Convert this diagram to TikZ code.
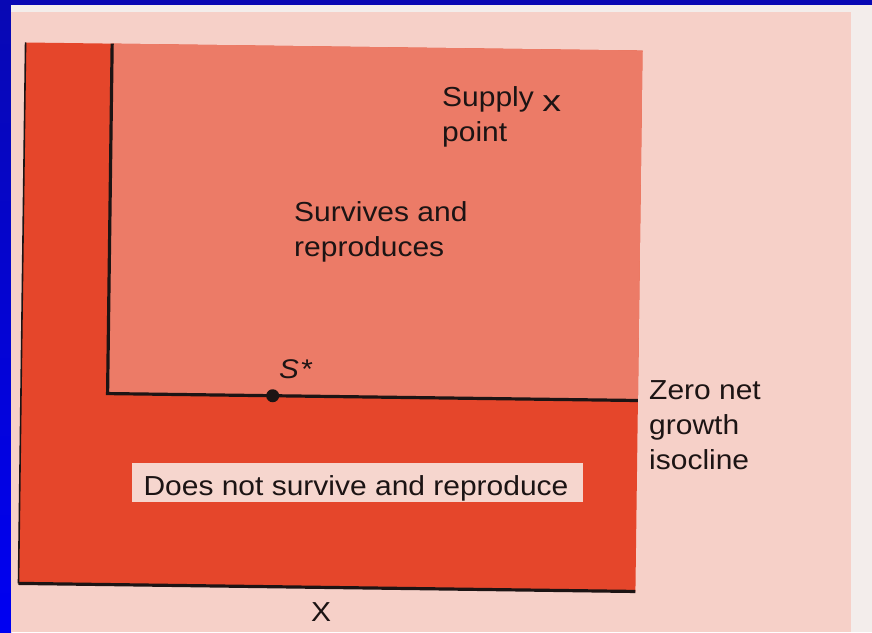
\documentclass[tikz,border=0pt]{standalone}
\usepackage{fontspec}
\setmainfont{Liberation Sans}
\definecolor{slideblue}{HTML}{0808B4}
\definecolor{slidebluelight}{HTML}{0000F2}
\definecolor{pagewhite}{HTML}{F3EDEB}
\definecolor{pagepink}{HTML}{F6D0C8}
\definecolor{darkzone}{HTML}{E5462B}
\definecolor{lightzone}{HTML}{EC7B67}
\definecolor{labelbg}{HTML}{F6D6CE}
\definecolor{ink}{HTML}{1C1414}
\begin{document}
\begin{tikzpicture}[x=1pt,y=-1pt,
  lbl/.style={font=\fontsize{27.5}{35}\selectfont, text=ink, inner sep=0pt, align=left, anchor=base west, xscale=1.09},
  edge/.style={draw=ink, line width=3.2pt},
  thinedge/.style={draw=ink, line width=1.6pt}]
\useasboundingbox (0,0) rectangle (872,632);
% slide background and scanned page
\fill[slideblue] (0,0) rectangle (872,632);
\shade[top color=slideblue, bottom color=slidebluelight] (0,5) rectangle (11,632);
\fill[pagewhite] (11,5) rectangle (872,632);
\fill[pagepink] (11,12) rectangle (851,632);
% diagram (scan is slightly rotated)
\begin{scope}[rotate around={-0.75:(330.5,317)}]
  \fill[darkzone] (22,46.5) rectangle (639,587.5);
  \fill[lightzone] (108.6,46.5) rectangle (639,396.5);
  \coordinate (otl) at (22,46.5);
  \coordinate (obl) at (22,587.5);
  \coordinate (obr) at (639,587.5);
  \coordinate (itl) at (108.6,46.5);
  \coordinate (ibl) at (108.6,396.5);
  \coordinate (ibr) at (639,396.5);
  \draw[thinedge] (otl) -- (obl);
  \draw[edge] (obl) -- (obr);
  \draw[edge] (itl) -- (ibl) -- (ibr);
  \node[circle, fill=ink, inner sep=0pt, minimum size=13pt] (sstar) at (273.7,396.5) {};
\end{scope}
% labels (base anchor = baseline of the last line)
\node[lbl] (supply) at (442,141) {Supply\\point};
\node[font=\fontsize{30}{30}\selectfont, text=ink, inner sep=0pt, anchor=base west, xscale=1.25] (supplyx) at (542,111) {x};
\node[lbl] (survives) at (294,256) {Survives and\\reproduces};
\node[font=\fontsize{27}{35}\selectfont\itshape, text=ink, inner sep=0pt, anchor=base west, xscale=1.1] (slabel) at (279,378) {S\kern1pt*};
\node[lbl] (iso) at (649,469) {Zero net\\growth\\isocline};
\node[fill=labelbg, inner sep=0pt, minimum width=451pt, minimum height=39pt] (dnbox) at (357.5,482.5) {};
\node[lbl, anchor=base] (dns) at (356,495) {Does not survive and reproduce};
\node[lbl, anchor=base] (xaxis) at (321,621) {X};
\end{tikzpicture}
\end{document}
